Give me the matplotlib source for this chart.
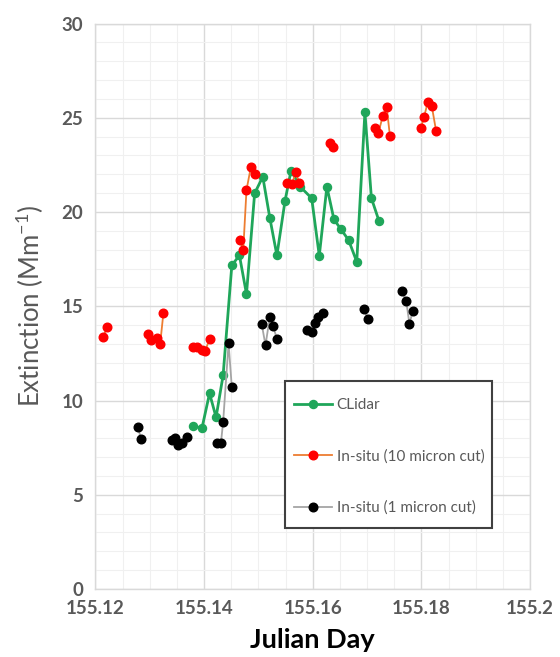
import numpy as np
import matplotlib
matplotlib.use("Agg")
import matplotlib.pyplot as plt
from matplotlib.patches import Rectangle
from matplotlib.ticker import MultipleLocator, FuncFormatter

nan = np.nan

# CLidar (continuous series)
clidar_x = [155.1380, 155.1396, 155.1410, 155.1422, 155.1435, 155.1451, 155.1465,
            155.1478, 155.1493, 155.1508, 155.1521, 155.1534, 155.1549, 155.1560,
            155.1577, 155.1598, 155.1612, 155.1626, 155.1639, 155.1652, 155.1666,
            155.1681, 155.1696, 155.1708, 155.1722]
clidar_y = [8.65, 8.53, 10.38, 9.11, 11.35, 17.17, 17.70,
            15.65, 20.99, 21.87, 19.68, 17.70, 20.60, 22.19,
            21.34, 20.73, 17.68, 21.34, 19.61, 19.08, 18.51,
            17.36, 25.29, 20.73, 19.52]

# In-situ 10 micron cut (NaN separates runs with missing data)
pm10_x = [155.1214, 155.1222, nan,
          155.1297, 155.1303, 155.1313, 155.1319, 155.1325, nan,
          155.1380, 155.1386, 155.1396, 155.1402, 155.1410, nan,
          155.1466, 155.1472, 155.1478, 155.1486, 155.1493, nan,
          155.1553, 155.1562, 155.1569, 155.1575, nan,
          155.1631, 155.1638, nan,
          155.1715, 155.1721, 155.1729, 155.1736, 155.1742, nan,
          155.1799, 155.1805, 155.1812, 155.1819, 155.1827]
pm10_y = [13.38, 13.92, nan,
          13.51, 13.21, 13.30, 12.98, 14.63, nan,
          12.85, 12.85, 12.68, 12.64, 13.25, nan,
          18.51, 17.97, 21.17, 22.37, 22.02, nan,
          21.55, 21.50, 22.14, 21.52, nan,
          23.64, 23.43, nan,
          24.44, 24.21, 25.11, 25.59, 24.05, nan,
          24.44, 25.06, 25.85, 25.64, 24.31]

# In-situ 1 micron cut
pm1_x = [155.1279, 155.1283, nan,
         155.1340, 155.1346, 155.1352, 155.1359, 155.1368, nan,
         155.1424, 155.1431, 155.1435, 155.1445, 155.1451, nan,
         155.1506, 155.1513, 155.1521, 155.1527, 155.1534, nan,
         155.1589, 155.1598, 155.1604, 155.1610, 155.1618, nan,
         155.1695, 155.1701, nan,
         155.1764, 155.1772, 155.1778, 155.1784]
pm1_y = [8.58, 7.97, nan,
         7.90, 8.03, 7.64, 7.73, 8.08, nan,
         7.76, 7.76, 8.86, 13.03, 10.70, nan,
         14.06, 12.93, 14.45, 13.95, 13.26, nan,
         13.74, 13.65, 14.10, 14.45, 14.63, nan,
         14.85, 14.32, nan,
         15.81, 15.29, 14.06, 14.75]

x_ticks = [155.12, 155.14, 155.16, 155.18, 155.2]
y_ticks = [0, 5, 10, 15, 20, 25, 30]

plt.rcParams['font.family'] = ['Lato', 'DejaVu Sans']
plt.rcParams['mathtext.fontset'] = 'custom'
plt.rcParams['mathtext.rm'] = 'Lato'

fig = plt.figure(figsize=(5.6, 6.57), dpi=100)
ax = fig.add_axes([0.1705, 0.1035, 0.776, 0.8607])

ax.plot(clidar_x, clidar_y, color='#1FA65A', lw=2.0, marker='o', ms=5.8,
        mfc='#1FA65A', mec='#1FA65A', label='CLidar', zorder=3)
ax.plot(pm10_x, pm10_y, color='#ED7D31', lw=1.3, marker='o', ms=6.2,
        mfc='#FF0000', mec='#FF0000', label='In-situ (10 micron cut)', zorder=4)
ax.plot(pm1_x, pm1_y, color='#A5A5A5', lw=1.3, marker='o', ms=6.2,
        mfc='#000000', mec='#000000', label='In-situ (1 micron cut)', zorder=4)

ax.set_xlim(155.12, 155.2)
ax.set_ylim(0, 30)
ax.set_xticks(x_ticks)
ax.set_yticks(y_ticks)
ax.xaxis.set_major_formatter(FuncFormatter(lambda v, p: f"{v:g}"))
ax.xaxis.set_minor_locator(MultipleLocator(0.005))
ax.yaxis.set_minor_locator(MultipleLocator(1))
ax.grid(which='major', color='#D9D9D9', lw=1.0, zorder=0)
ax.grid(which='minor', color='#F0F0F0', lw=0.8, zorder=0)
ax.set_axisbelow(True)
for s in ax.spines.values():
    s.set_color('#D9D9D9')
    s.set_linewidth(1.0)
ax.tick_params(which='both', length=0)
ax.tick_params(axis='y', pad=9)
ax.tick_params(axis='x', pad=8)
for lab in ax.get_xticklabels() + ax.get_yticklabels():
    lab.set_fontsize(13.5)
    lab.set_fontweight('bold')
    lab.set_color('#595959')

ax.set_ylabel(r'Extinction (Mm$^{\mathregular{-1}}$)', fontsize=18.5, color='#595959',
              labelpad=11)
ax.set_xlabel('Julian Day', fontsize=19.5, fontweight='bold', color='black', labelpad=8)

# legend box (frame drawn separately for exact placement)
ax.add_patch(Rectangle((0.436, 0.107), 0.477, 0.261, transform=ax.transAxes,
                       facecolor='white', edgecolor='#404040', lw=1.5, zorder=5))
leg = ax.legend(loc='upper left', bbox_to_anchor=(0.457, 0.337), frameon=False,
                fontsize=11, labelspacing=2.42, handlelength=2.5, handletextpad=0.28,
                borderpad=0, borderaxespad=0)
leg.set_zorder(6)
for t in leg.get_texts():
    t.set_color('#595959')

fig.savefig('out.png', dpi=100)
